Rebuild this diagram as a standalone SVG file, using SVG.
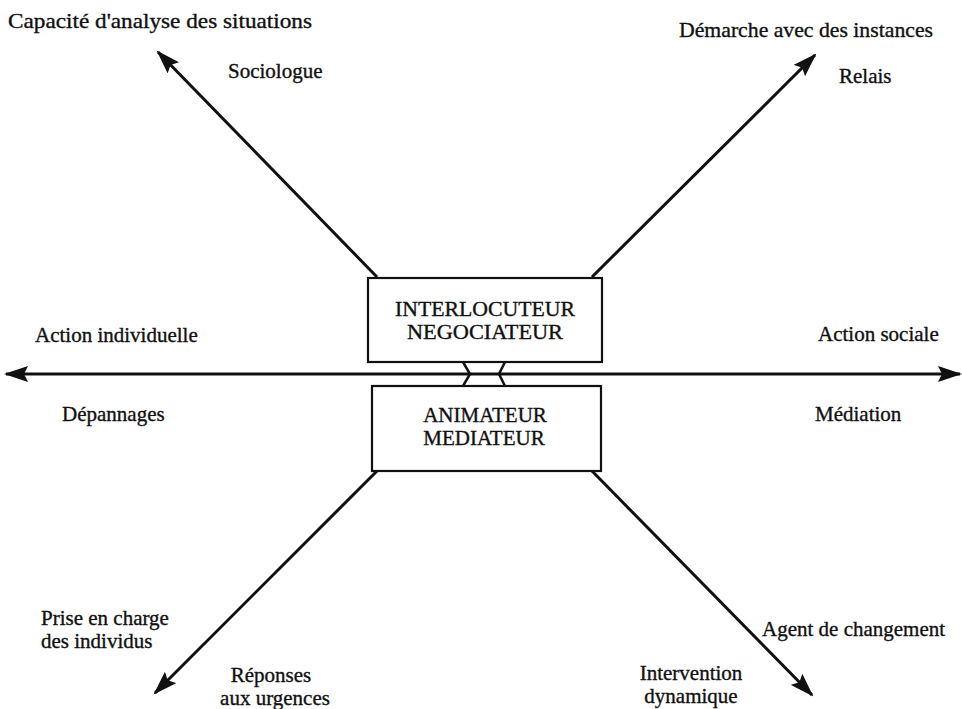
<svg xmlns="http://www.w3.org/2000/svg" width="962" height="709" viewBox="0 0 962 709">
  <style>
    text { font-family: "Liberation Serif", "Times New Roman", serif; font-size: 21px; fill: #111; stroke: #111; stroke-width: 0.35; }
    .mid { text-anchor: middle; }
    .box { fill: #fff; stroke: #111; stroke-width: 2.2; }
    .axis { fill: none; stroke: #111; stroke-width: 3; marker-end: url(#head); }
    .tie { fill: none; stroke: #111; stroke-width: 2.5; stroke-linejoin: miter; }
  </style>
  <defs>
    <marker id="head" viewBox="0 0 24 16" refX="22" refY="8" markerWidth="24" markerHeight="16" markerUnits="userSpaceOnUse" orient="auto">
      <path d="M0,0 L24,8 L0,16 L4,8 z" fill="#111"/>
    </marker>
  </defs>
  <rect width="962" height="709" fill="#fff"/>

  <!-- connectors: the horizontal axis and the four diagonal directions -->
  <g id="connectors">
    <line class="axis" x1="485" y1="374" x2="6" y2="374"/>
    <line class="axis" x1="485" y1="374" x2="960" y2="374"/>
    <line class="axis" x1="377" y1="277" x2="158" y2="52"/>
    <line class="axis" x1="592" y1="277" x2="815" y2="55"/>
    <line class="axis" x1="377" y1="471" x2="155" y2="693"/>
    <line class="axis" x1="592" y1="471" x2="812" y2="695"/>
    <path class="tie" d="M463,362 L470,374 L463,386 M505,362 L499,374 L505,386"/>
  </g>

  <g id="node-interlocuteur">
    <rect class="box" x="368" y="278" width="234" height="84"/>
    <text class="mid" x="485" y="316" textLength="180" lengthAdjust="spacingAndGlyphs">INTERLOCUTEUR</text>
    <text class="mid" x="485" y="339" textLength="156" lengthAdjust="spacingAndGlyphs">NEGOCIATEUR</text>
  </g>

  <g id="node-animateur">
    <rect class="box" x="372" y="386" width="229" height="85"/>
    <text class="mid" x="485" y="422">ANIMATEUR</text>
    <text class="mid" x="484" y="445">MEDIATEUR</text>
  </g>

  <!-- labels around the axes -->
  <g id="labels">
    <text x="8" y="28" textLength="304" lengthAdjust="spacingAndGlyphs">Capacité d'analyse des situations</text>
    <text x="228" y="78">Sociologue</text>
    <text x="679" y="37" textLength="254" lengthAdjust="spacingAndGlyphs">Démarche avec des instances</text>
    <text x="839" y="83">Relais</text>
    <text x="35" y="342">Action individuelle</text>
    <text x="818" y="341">Action sociale</text>
    <text x="62" y="421">Dépannages</text>
    <text x="815" y="421">Médiation</text>
    <text x="41" y="625">Prise en charge</text>
    <text x="41" y="648">des individus</text>
    <text x="762" y="636">Agent de changement</text>
    <text class="mid" x="271" y="682">Réponses</text>
    <text class="mid" x="275" y="705">aux urgences</text>
    <text class="mid" x="691" y="680">Intervention</text>
    <text class="mid" x="691" y="703">dynamique</text>
  </g>
</svg>
